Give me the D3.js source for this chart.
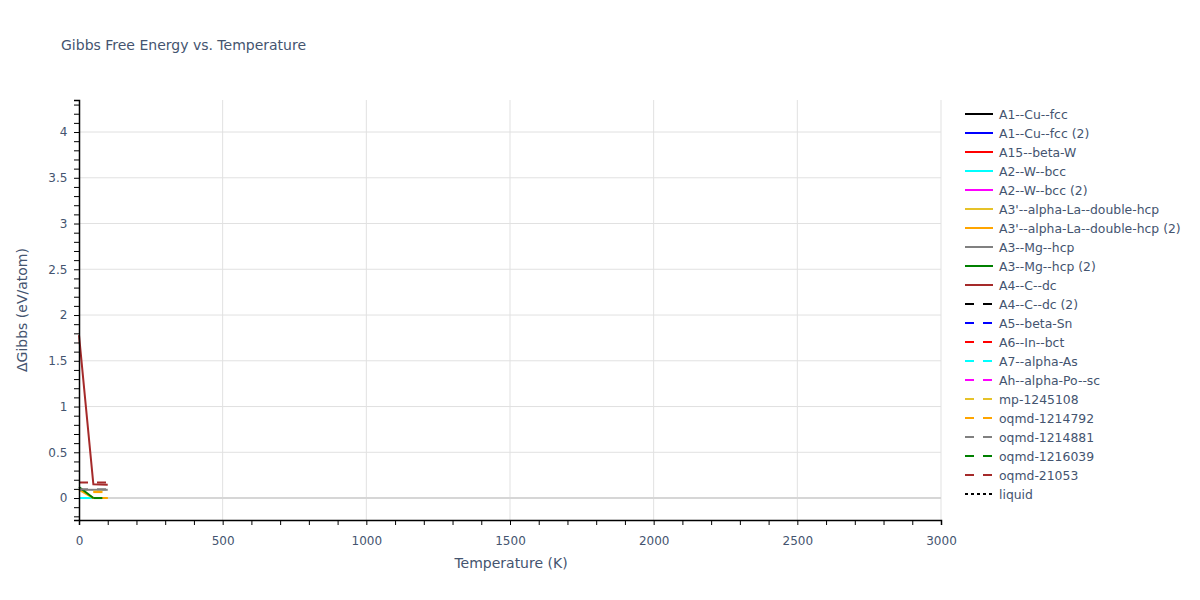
<!DOCTYPE html>
<html><head><meta charset="utf-8">
<script src="https://cdn.jsdelivr.net/npm/d3@7"></script>
<style>body{margin:0;background:#fff;font-family:"DejaVu Sans",sans-serif;}</style>
</head><body><svg id="c" width="1200" height="600" font-family="DejaVu Sans"></svg>
<script>
const temps = [0, 50, 100];
const seriesNames = ["A1--Cu--fcc","A1--Cu--fcc (2)","A15--beta-W","A2--W--bcc","A2--W--bcc (2)","A3'--alpha-La--double-hcp","A3'--alpha-La--double-hcp (2)","A3--Mg--hcp","A3--Mg--hcp (2)","A4--C--dc","A4--C--dc (2)","A5--beta-Sn","A6--In--bct","A7--alpha-As","Ah--alpha-Po--sc","mp-1245108","oqmd-1214792","oqmd-1214881","oqmd-1216039","oqmd-21053","liquid"];
const seriesColors = ["black","blue","red","cyan","magenta","#e6c229","orange","gray","green","#a52a2a","black","blue","red","cyan","magenta","#e6c229","orange","gray","green","#a52a2a","black"];
const seriesDash = ["solid","solid","solid","solid","solid","solid","solid","solid","solid","solid","dash","dash","dash","dash","dash","dash","dash","dash","dash","dash","dot"];
const seriesValues = [
  [null,null,null],
  [null,null,null],
  [null,null,null],
  [0.0,0.0,null],
  [null,null,null],
  [0.09,0.0,0.0],
  [0.10,0.0,0.0],
  [0.09,0.09,0.09],
  [0.12,0.0,null],
  [1.78,0.15,0.145],
  [null,null,null],
  [null,null,null],
  [null,null,null],
  [null,null,null],
  [null,null,null],
  [null,0.07,0.07],
  [null,0.065,0.065],
  [0.095,0.095,0.095],
  [null,0.0,0.0],
  [0.17,0.17,0.17],
  [null,null,null]
];
const xTicks = [0,500,1000,1500,2000,2500,3000];
const yTicks = [0,0.5,1,1.5,2,2.5,3,3.5,4];

const svg = d3.select("#c");
const L=79,R=941,T=100,B=520;
const x = d3.scaleLinear().domain([0,3000]).range([L,R]);
const y = d3.scaleLinear().domain([-0.24,4.35]).range([B,T]);
const txt="#44546f", tick="#44546f";
const FF="DejaVu Sans";

// grid
svg.append("g").selectAll("line").data(xTicks.filter(d=>d>0)).join("line")
  .attr("x1",d=>x(d)).attr("x2",d=>x(d)).attr("y1",T).attr("y2",B)
  .attr("stroke","#e1e1e1").attr("stroke-width",1);
svg.append("g").selectAll("line").data(yTicks.filter(d=>d!==0)).join("line")
  .attr("x1",L).attr("x2",R).attr("y1",d=>y(d)).attr("y2",d=>y(d))
  .attr("stroke","#e1e1e1").attr("stroke-width",1);
svg.append("line").attr("x1",L).attr("x2",R).attr("y1",y(0)).attr("y2",y(0))
  .attr("stroke","#d6d6d6").attr("stroke-width",2);

// lines
const dashMap={solid:null,dash:"9,9",dot:"3,3"};
const plot = svg.append("g");
seriesNames.forEach((n,i)=>{
  const pts = temps.map((t,j)=>[t,seriesValues[i][j]]).filter(p=>p[1]!==null);
  if(pts.length<2) return;
  plot.append("path").datum(pts)
    .attr("d",d3.line().x(p=>x(p[0])).y(p=>y(p[1])))
    .attr("fill","none").attr("stroke",seriesColors[i]).attr("stroke-width",2)
    .attr("stroke-dasharray",dashMap[seriesDash[i]]);
});

// axes
const xAxis = svg.append("g").attr("transform",`translate(0,${B})`)
  .call(d3.axisBottom(x).tickValues(d3.range(0,3001,100)).tickSize(5).tickFormat(d=>xTicks.includes(d)?d:""));
xAxis.select(".domain").attr("stroke","#000").attr("stroke-width",1.5);
xAxis.selectAll(".tick line").attr("stroke","#000");
xAxis.selectAll(".tick text").attr("fill",tick).attr("font-size",12).attr("font-family",FF).attr("dy","1.4em");

const yAxis = svg.append("g").attr("transform",`translate(${L},0)`)
  .call(d3.axisLeft(y).tickValues(d3.range(-2,44).map(d=>d/10)).tickSize(5)
    .tickFormat(d=>{const r=Math.round(d*10)/10; return yTicks.includes(r)?d3.format("")(r):"";}));
yAxis.select(".domain").attr("stroke","#000").attr("stroke-width",1.5);
yAxis.selectAll(".tick line").attr("stroke","#000");
yAxis.selectAll(".tick text").attr("fill",tick).attr("font-size",12).attr("font-family",FF).attr("dx","-0.3em");

// titles
svg.append("text").attr("x",61).attr("y",50).text("Gibbs Free Energy vs. Temperature")
  .attr("fill",txt).attr("font-size",14).attr("font-family",FF);
svg.append("text").attr("x",(L+R)/2+1).attr("y",568).attr("text-anchor","middle")
  .text("Temperature (K)").attr("fill",txt).attr("font-size",14).attr("font-family",FF);
svg.append("text").attr("transform",`translate(27,${(T+B)/2}) rotate(-90)`).attr("text-anchor","middle")
  .text("ΔGibbs (eV/atom)").attr("fill",txt).attr("font-size",14).attr("font-family",FF);

// legend
const lg = svg.append("g");
seriesNames.forEach((n,i)=>{
  const yy = 114 + i*19;
  lg.append("line").attr("x1",965).attr("x2",993).attr("y1",yy).attr("y2",yy)
    .attr("stroke",seriesColors[i]).attr("stroke-width",2)
    .attr("stroke-dasharray",seriesDash[i]==="dash"?"9,9":seriesDash[i]==="dot"?"3,3":null);
  lg.append("text").attr("x",999).attr("y",yy+4.5).text(n).attr("fill",txt).attr("font-size",12.4).attr("font-family",FF);
});
</script></body></html>
